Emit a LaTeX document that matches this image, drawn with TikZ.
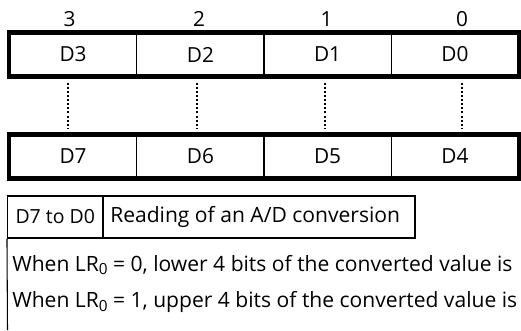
\documentclass[tikz,border=0pt]{standalone}
\usepackage{fontspec}
\setmainfont{Open Sans}
\newcommand\lowsub[1]{\raisebox{-0.35ex}{\fontsize{11.5}{11.5}\selectfont #1}}
\begin{document}
\begin{tikzpicture}[x=0.75pt,y=-0.75pt,
  txt/.style={font=\fontsize{15.6}{17}\selectfont, inner sep=0pt},
  body/.style={font=\fontsize{15.8}{17}\selectfont, inner sep=0pt},
  cell/.style={draw, line width=0.8pt, minimum width=95.44pt, minimum height=32.25pt, inner sep=0pt, txt},
  frame/.style={line width=3.3pt},
  thin/.style={line width=0.8pt},
  dots/.style={line width=1.5pt, dash pattern=on 1.5pt off 1.6pt}]
\useasboundingbox (0,0) rectangle (521,330);
% top register
\node[cell] (t3) at (73.1,54.5) {D3};
\node[cell] (t2) at (200.4,54.5) {D2};
\node[cell] (t1) at (327.6,54.5) {D1};
\node[cell] (t0) at (454.9,54.5) {D0};
\draw[frame] (t3.north west) rectangle (t0.south east);
% bit numbers
\node[txt] (n3) at (69.5,19) {3};
\node[txt] (n2) at (199,19) {2};
\node[txt] (n1) at (326.5,19) {1};
\node[txt] (n0) at (462,19) {0};
% bottom register
\node[cell] (b7) at (73.1,156.5) {D7};
\node[cell] (b6) at (200.4,156.5) {D6};
\node[cell] (b5) at (327.6,156.5) {D5};
\node[cell] (b4) at (454.9,156.5) {D4};
\draw[frame] (b7.north west) rectangle (b4.south east);
% dotted connectors
\draw[dots] ([xshift=-3.75pt,yshift=-4.5pt]t3.south) -- ([xshift=-3.75pt,yshift=4.5pt]b7.north);
\draw[dots] ([xshift=-2.5pt,yshift=-4.5pt]t2.south) -- ([xshift=-2.5pt,yshift=4.5pt]b6.north);
\draw[dots] ([xshift=-2pt,yshift=-4.5pt]t1.south) -- ([xshift=-2pt,yshift=4.5pt]b5.north);
\draw[dots] ([xshift=5pt,yshift=-4.5pt]t0.south) -- ([xshift=5pt,yshift=4.5pt]b4.north);
% table
\node[cell, minimum width=71.6pt, minimum height=31.5pt] (h1) at (55.25,217) {\fontsize{14.6}{15}\selectfont D7 to D0};
\node[cell, minimum width=234pt, minimum height=31.5pt] (h2) at (259,217) {};
\node[body, anchor=west] (h2t) at (110,217) {Reading of an A/D conversion};
\coordinate (lb) at (7.5,330);
\draw[thin] (h1.south west) -- (lb);
\node[body, anchor=west] (l1) at (12,265) {When LR\lowsub{0} = 0, lower 4 bits of the converted value is};
\node[body, anchor=west] (l2) at (12,302) {When LR\lowsub{0} = 1, upper 4 bits of the converted value is};
\end{tikzpicture}
\end{document}
